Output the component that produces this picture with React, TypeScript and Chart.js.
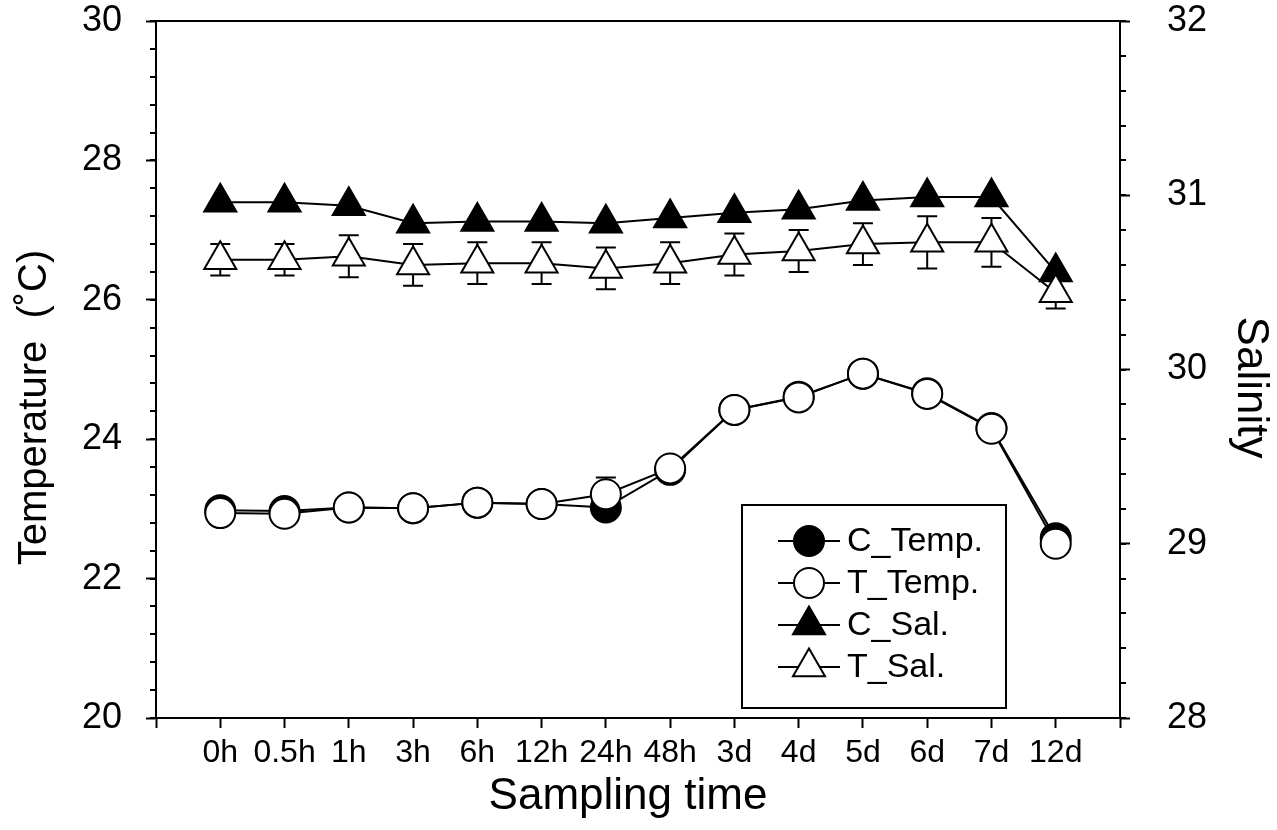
import { useEffect, useRef } from 'react';
import { Chart, registerables } from 'chart.js';

Chart.register(...registerables);

// Sampling times along the x axis
const timeLabels = ['0h', '0.5h', '1h', '3h', '6h', '12h', '24h', '48h', '3d', '4d', '5d', '6d', '7d', '12d'];

// Temperature (°C), control and treatment
const cTemp = [22.98, 22.97, 23.02, 23.01, 23.09, 23.07, 23.02, 23.56, 24.42, 24.61, 24.94, 24.66, 24.16, 22.58];
const tTemp = [22.94, 22.93, 23.02, 23.01, 23.09, 23.07, 23.21, 23.58, 24.42, 24.60, 24.94, 24.65, 24.15, 22.50];
const tTempErr = [0, 0, 0, 0, 0, 0, 0.24, 0, 0, 0, 0, 0, 0, 0];

// Salinity, control and treatment
const cSal = [30.96, 30.96, 30.94, 30.84, 30.85, 30.85, 30.84, 30.87, 30.90, 30.92, 30.97, 30.99, 30.99, 30.56];
const tSal = [30.63, 30.63, 30.65, 30.60, 30.61, 30.61, 30.58, 30.61, 30.66, 30.68, 30.72, 30.73, 30.73, 30.44];
const tSalErr = [0.09, 0.09, 0.12, 0.12, 0.12, 0.12, 0.12, 0.12, 0.12, 0.12, 0.12, 0.15, 0.14, 0.09];

// Axis ticks
const tempTicks = [20, 22, 24, 26, 28, 30];
const tempMinorStep = 0.4;
const salTicks = [28, 29, 30, 31, 32];
const salMinorStep = 0.2;

// Axis titles
const xTitle = 'Sampling time';
const yTitle = 'Temperature  (˚C)';
const y1Title = 'Salinity';

const FONT = '"Liberation Sans", Arial, sans-serif';

const toPoints = (vals: number[]) => vals.map((v, i) => ({ x: i + 1, y: v }));

function markerPath(ctx: CanvasRenderingContext2D, style: string, x: number, y: number, r: number) {
  ctx.beginPath();
  if (style === 'triangle') {
    for (let k = 0; k < 3; k++) {
      const a = (k * 2 * Math.PI) / 3;
      const px = x + Math.sin(a) * r;
      const py = y - Math.cos(a) * r;
      if (k === 0) ctx.moveTo(px, py);
      else ctx.lineTo(px, py);
    }
    ctx.closePath();
  } else {
    ctx.arc(x, y, r, 0, Math.PI * 2);
  }
}

const decorPlugin = {
  id: 'decor',
  beforeDatasetsDraw(chart: any) {
    const ctx: CanvasRenderingContext2D = chart.ctx;
    const xs = chart.scales.x;
    const bars = [
      { vals: tSal, errs: tSalErr, scale: chart.scales.y1 },
      { vals: tTemp, errs: tTempErr, scale: chart.scales.y },
    ];
    ctx.save();
    ctx.strokeStyle = '#000';
    ctx.lineWidth = 2;
    for (const b of bars) {
      b.vals.forEach((v, i) => {
        const e = b.errs[i];
        if (!e) return;
        const px = xs.getPixelForValue(i + 1);
        const top = b.scale.getPixelForValue(v + e);
        const bot = b.scale.getPixelForValue(v - e);
        ctx.beginPath();
        ctx.moveTo(px, top);
        ctx.lineTo(px, bot);
        ctx.moveTo(px - 10, top);
        ctx.lineTo(px + 10, top);
        ctx.moveTo(px - 10, bot);
        ctx.lineTo(px + 10, bot);
        ctx.stroke();
      });
    }
    ctx.restore();
  },
  afterDraw(chart: any) {
    const ctx: CanvasRenderingContext2D = chart.ctx;
    const { left, right, top, bottom } = chart.chartArea;
    const y = chart.scales.y;
    const y1 = chart.scales.y1;
    ctx.save();
    ctx.strokeStyle = '#000';
    ctx.lineWidth = 2;

    // top frame line
    ctx.beginPath();
    ctx.moveTo(left, top);
    ctx.lineTo(right, top);
    ctx.stroke();

    // minor ticks, left axis
    ctx.beginPath();
    for (let v = y.min; v <= y.max + 1e-9; v += tempMinorStep) {
      const py = Math.round(y.getPixelForValue(v));
      ctx.moveTo(left - 6, py);
      ctx.lineTo(left, py);
    }
    // minor ticks, right axis
    for (let v = y1.min; v <= y1.max + 1e-9; v += salMinorStep) {
      const py = Math.round(y1.getPixelForValue(v));
      ctx.moveTo(right, py);
      ctx.lineTo(right + 6, py);
    }
    ctx.stroke();

    // axis titles
    ctx.fillStyle = '#000';
    ctx.textAlign = 'center';
    ctx.textBaseline = 'middle';
    ctx.font = `44px ${FONT}`;
    ctx.fillText(xTitle, (left + right) / 2 - 10, 797);

    ctx.save();
    ctx.translate(35, (top + bottom) / 2 + 38);
    ctx.rotate(-Math.PI / 2);
    ctx.font = `40px ${FONT}`;
    ctx.fillText(yTitle, 0, 0);
    ctx.restore();

    ctx.save();
    ctx.translate(1250, (top + bottom) / 2 + 18);
    ctx.rotate(Math.PI / 2);
    ctx.font = `44px ${FONT}`;
    ctx.fillText(y1Title, 0, 0);
    ctx.restore();

    // legend
    const bx = 742, by = 505, bw = 264, bh = 203;
    ctx.fillStyle = '#fff';
    ctx.fillRect(bx, by, bw, bh);
    ctx.strokeRect(bx, by, bw, bh);
    ctx.font = `34px ${FONT}`;
    ctx.textBaseline = 'middle';
    ctx.textAlign = 'left';
    chart.data.datasets.forEach((ds: any, i: number) => {
      const ry = 541 + i * 42;
      ctx.beginPath();
      ctx.moveTo(778, ry);
      ctx.lineTo(840, ry);
      ctx.stroke();
      const r = ds.pointStyle === 'triangle' ? 18.5 : 15;
      markerPath(ctx, ds.pointStyle, 809, ry, r);
      ctx.fillStyle = ds.pointBackgroundColor;
      ctx.fill();
      ctx.stroke();
      ctx.fillStyle = '#000';
      ctx.fillText(ds.label, 847, ry + 1);
    });
    ctx.restore();
  },
};

export default function App() {
  const canvasRef = useRef<HTMLCanvasElement | null>(null);

  useEffect(() => {
    document.body.style.margin = '0';
    const canvas = canvasRef.current;
    if (!canvas) return;

    const lineDs = (label: string, data: number[], axis: string, style: string, fill: string, order: number) => ({
      label,
      data: toPoints(data),
      yAxisID: axis,
      borderColor: '#000',
      borderWidth: 2,
      pointStyle: style,
      pointRadius: style === 'triangle' ? 18.5 : 15,
      pointBackgroundColor: fill,
      pointBorderColor: '#000',
      pointBorderWidth: 2,
      tension: 0,
      order,
    });

    const tickGrid = {
      drawOnChartArea: false,
      drawTicks: true,
      tickLength: 10,
      tickColor: '#000',
      tickWidth: 2,
    };

    const fixVertical = (w: number) => (s: any) => {
      s.width = w;
      s.paddingTop = 0;
      s.paddingBottom = 0;
    };

    const chart = new Chart(canvas, {
      type: 'line',
      data: {
        datasets: [
          lineDs('C_Temp.', cTemp, 'y', 'circle', '#000', 2),
          lineDs('T_Temp.', tTemp, 'y', 'circle', '#fff', 0),
          lineDs('C_Sal.', cSal, 'y1', 'triangle', '#000', 3),
          lineDs('T_Sal.', tSal, 'y1', 'triangle', '#fff', 1),
        ],
      },
      options: {
        animation: false,
        responsive: false,
        events: [],
        layout: { padding: { top: 21, left: 0, right: 0, bottom: 0 } },
        plugins: {
          legend: { display: false },
          tooltip: { enabled: false },
        },
        scales: {
          x: {
            type: 'linear',
            min: 0,
            max: timeLabels.length + 1,
            afterBuildTicks: (s: any) => {
              s.ticks = Array.from({ length: timeLabels.length + 2 }, (_, k) => ({ value: k }));
            },
            afterFit: (s: any) => {
              s.height = 112;
              s.paddingLeft = 0;
              s.paddingRight = 0;
            },
            ticks: {
              autoSkip: false,
              maxRotation: 0,
              padding: 6,
              color: '#000',
              font: { family: FONT, size: 32, lineHeight: 1.2 },
              callback: (v: any) => timeLabels[Number(v) - 1] ?? '',
            },
            grid: tickGrid,
            border: { color: '#000', width: 2 },
            title: { display: false },
          },
          y: {
            type: 'linear',
            position: 'left',
            min: tempTicks[0],
            max: tempTicks[tempTicks.length - 1],
            afterBuildTicks: (s: any) => {
              s.ticks = tempTicks.map((v) => ({ value: v }));
            },
            afterFit: fixVertical(156),
            ticks: {
              padding: 24,
              color: '#000',
              font: { family: FONT, size: 36, lineHeight: 1 },
            },
            grid: tickGrid,
            border: { color: '#000', width: 2 },
            title: { display: false },
          },
          y1: {
            type: 'linear',
            position: 'right',
            min: salTicks[0],
            max: salTicks[salTicks.length - 1],
            afterBuildTicks: (s: any) => {
              s.ticks = salTicks.map((v) => ({ value: v }));
            },
            afterFit: fixVertical(157),
            ticks: {
              padding: 37,
              color: '#000',
              font: { family: FONT, size: 36, lineHeight: 1 },
            },
            grid: tickGrid,
            border: { color: '#000', width: 2 },
            title: { display: false },
          },
        },
      } as any,
      plugins: [decorPlugin],
    });

    return () => chart.destroy();
  }, []);

  return (
    <div style={{ position: 'absolute', left: 0, top: 0, width: 1277, height: 830, background: '#fff' }}>
      <canvas ref={canvasRef} width={1277} height={830} style={{ display: 'block' }} />
    </div>
  );
}
